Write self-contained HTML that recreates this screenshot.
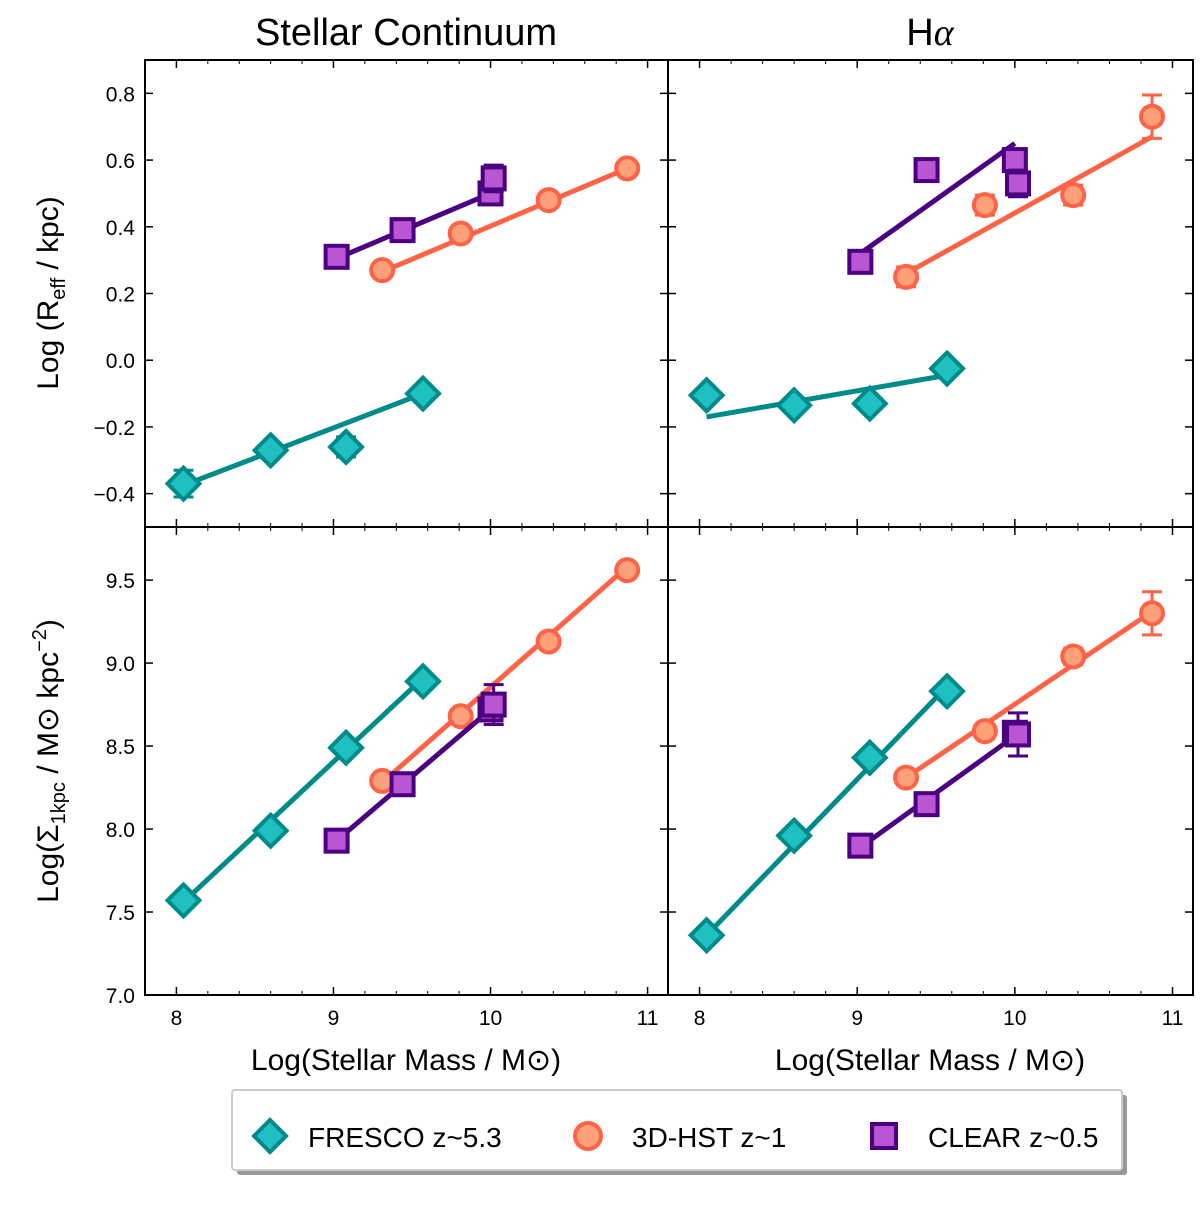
<!DOCTYPE html>
<html><head><meta charset="utf-8"><style>
body{margin:0;background:#fff;}
svg text{font-family:"Liberation Sans","DejaVu Sans",sans-serif;fill:#000;}
</style></head><body>
<svg id="chart" width="1200" height="1200" xmlns="http://www.w3.org/2000/svg">
<text x="406" y="45" font-size="38" text-anchor="middle">Stellar Continuum</text>
<text x="930" y="45" font-size="38" text-anchor="middle">H<tspan font-style="italic" font-family="Liberation Serif">α</tspan></text>
<text transform="translate(58,293) rotate(-90)" font-size="30" text-anchor="middle">Log (R<tspan font-size="20" dy="7">eff</tspan><tspan dy="-7"> / kpc)</tspan></text>
<text transform="translate(58,761) rotate(-90)" font-size="30" text-anchor="middle">Log(Σ<tspan font-size="20" dy="7">1kpc</tspan><tspan dy="-7"> / M</tspan><tspan>⊙</tspan><tspan> kpc</tspan><tspan font-size="20" dy="-12">−2</tspan><tspan dy="12">)</tspan></text>
<text x="406" y="1070" font-size="30" text-anchor="middle">Log(Stellar Mass / M⊙)</text>
<text x="930" y="1070" font-size="30" text-anchor="middle">Log(Stellar Mass / M⊙)</text>
<g id="panels"></g>
<g>
<rect x="237" y="1095" width="890" height="80" fill="#999" rx="3"/>
<rect x="232" y="1090" width="890" height="80" fill="#fff" stroke="#ccc" stroke-width="2" rx="3"/>
<polygon points="270,1120 286,1136 270,1152 254,1136" fill="#20c0c0" stroke="#008b8b" stroke-width="4"/>
<text x="308" y="1147" font-size="28">FRESCO z~5.3</text>
<circle cx="588" cy="1136" r="13" fill="#ffa07a" stroke="#ff6347" stroke-width="4"/>
<text x="632" y="1147" font-size="28">3D-HST z~1</text>
<rect x="872" y="1124" width="24" height="24" fill="#ba55d3" stroke="#4b0082" stroke-width="4"/>
<text x="928" y="1147" font-size="28">CLEAR z~0.5</text>
</g>
</svg>
<script>
const massF=[8.045,8.60,9.08,9.57];
const massH=[9.31,9.81,10.37,10.87];
const massC=[9.02,9.44,10.00,10.02];
const reffContF=[-0.37,-0.27,-0.26,-0.10];
const reffContH=[0.27,0.38,0.48,0.575];
const reffContC=[0.31,0.39,0.50,0.545];
const reffHaF=[-0.105,-0.135,-0.13,-0.025];
const reffHaH=[0.25,0.465,0.495,0.73];
const reffHaC=[0.295,0.57,0.60,0.53];
const sigContF=[7.57,7.99,8.49,8.89];
const sigContH=[8.29,8.68,9.13,9.56];
const sigContC=[7.93,8.27,8.72,8.75];
const sigHaF=[7.36,7.96,8.43,8.83];
const sigHaH=[8.31,8.59,9.04,9.30];
const sigHaC=[7.90,8.15,8.58,8.57];
const errReffContF=[0.04,0.02,0.03,0.02];
const errReffContH=[0.01,0.02,0.02,0.015];
const errReffContC=[0.015,0.02,0.02,0.04];
const errReffHaF=[0.02,0.02,0.02,0.02];
const errReffHaH=[0.03,0.03,0.03,0.065];
const errReffHaC=[0.03,0.02,0.03,0.04];
const errSigContF=[0.02,0.02,0.02,0.02];
const errSigContH=[0.02,0.02,0.03,0.03];
const errSigContC=[0.03,0.03,0.06,0.12];
const errSigHaF=[0.02,0.02,0.02,0.02];
const errSigHaH=[0.03,0.04,0.05,0.13];
const errSigHaC=[0.03,0.03,0.06,0.13];
// fit line endpoints [x0,x1,y0,y1]
const fitReffContF=[8.045,9.57,-0.375,-0.10];
const fitReffContH=[9.31,10.87,0.265,0.575];
const fitReffContC=[9.02,10.00,0.305,0.50];
const fitReffHaF=[8.045,9.57,-0.17,-0.045];
const fitReffHaH=[9.31,10.87,0.26,0.67];
const fitReffHaC=[9.02,10.00,0.32,0.65];
const fitSigContF=[8.045,9.57,7.56,8.91];
const fitSigContH=[9.31,10.87,8.28,9.58];
const fitSigContC=[9.02,10.00,7.93,8.72];
const fitSigHaF=[8.045,9.57,7.36,8.86];
const fitSigHaH=[9.31,10.87,8.31,9.31];
const fitSigHaC=[9.02,10.00,7.89,8.56];
const xTicks=[8,9,10,11];
const yTicksTop=[-0.4,-0.2,0.0,0.2,0.4,0.6,0.8];
const yTicksBot=[7.0,7.5,8.0,8.5,9.0,9.5];
const NS="http://www.w3.org/2000/svg";
const g=document.getElementById('panels');
function mk(t,a,parent){const e=document.createElementNS(NS,t);for(const k in a)e.setAttribute(k,a[k]);(parent||g).appendChild(e);return e;}
const sty={F:{line:'#008b8b',fill:'#20c0c0',edge:'#008b8b'},H:{line:'#ff6347',fill:'#ffa07a',edge:'#ff6347'},C:{line:'#4b0082',fill:'#ba55d3',edge:'#4b0082'}};
function panel(px,py,w,h,ymin,ymax,yticks,showY,showX,series,name){
  const X=v=>px+(v-7.8)/(11.13-7.8)*w;
  const Y=v=>py+h-(v-ymin)/(ymax-ymin)*h;
  const pg=mk('g',{});
  
  
  xTicks.forEach(t=>{
    mk('line',{x1:X(t),x2:X(t),y1:py+h,y2:py+h-8,stroke:'#000','stroke-width':1.5},pg);
    mk('line',{x1:X(t),x2:X(t),y1:py,y2:py+8,stroke:'#000','stroke-width':1.5},pg);
    for(let m=1;m<5;m++){const v=t+m*0.2;if(v<11.13){mk('line',{x1:X(v),x2:X(v),y1:py+h,y2:py+h-4,stroke:'#000'},pg);mk('line',{x1:X(v),x2:X(v),y1:py,y2:py+4,stroke:'#000'},pg);}}
    if(showX){const tx=mk('text',{x:X(t),y:py+h+30,'font-size':21,'text-anchor':'middle'},pg);tx.textContent=t;
      
      }
  });
  yticks.forEach(t=>{
    mk('line',{x1:px,x2:px+8,y1:Y(t),y2:Y(t),stroke:'#000','stroke-width':1.5},pg);
    mk('line',{x1:px+w,x2:px+w-8,y1:Y(t),y2:Y(t),stroke:'#000','stroke-width':1.5},pg);
    if(showY){const tx=mk('text',{x:px-10,y:Y(t)+8,'font-size':21,'text-anchor':'end'},pg);
      tx.textContent=(t<0?'−':'')+Math.abs(t).toFixed(1);
      
      }
  });
  series.forEach(s=>{
    const c=sty[s.k];
    const ln=mk('line',{x1:X(s.fit[0]),x2:X(s.fit[1]),y1:Y(s.fit[2]),y2:Y(s.fit[3]),stroke:c.line,'stroke-width':5},pg);
    
    
    s.x.forEach((xv,i)=>{
      const cx=X(xv),cy=Y(s.y[i]),e=s.e[i];
      mk('line',{x1:cx,x2:cx,y1:Y(s.y[i]-e),y2:Y(s.y[i]+e),stroke:c.edge,'stroke-width':3},pg);
      mk('line',{x1:cx-10,x2:cx+10,y1:Y(s.y[i]-e),y2:Y(s.y[i]-e),stroke:c.edge,'stroke-width':3},pg);
      mk('line',{x1:cx-10,x2:cx+10,y1:Y(s.y[i]+e),y2:Y(s.y[i]+e),stroke:c.edge,'stroke-width':3},pg);
      let m;
      if(s.k==='F')m=mk('polygon',{points:`${cx},${cy-16} ${cx+16},${cy} ${cx},${cy+16} ${cx-16},${cy}`,fill:c.fill,stroke:c.edge,'stroke-width':4},pg);
      else if(s.k==='H')m=mk('circle',{cx:cx,cy:cy,r:11,fill:c.fill,stroke:c.edge,'stroke-width':4},pg);
      else m=mk('rect',{x:cx-11,y:cy-11,width:22,height:22,fill:c.fill,stroke:c.edge,'stroke-width':4},pg);
      
      
    });
  });
  const fr=mk('rect',{x:px,y:py,width:w,height:h,fill:'none',stroke:'#000','stroke-width':2},pg);
  
  
}
panel(145,60,523,467,-0.5,0.9,yTicksTop,true,false,[
 {k:'F',x:massF,y:reffContF,e:errReffContF,fit:fitReffContF},
 {k:'H',x:massH,y:reffContH,e:errReffContH,fit:fitReffContH},
 {k:'C',x:massC,y:reffContC,e:errReffContC,fit:fitReffContC}],'panel-reff-continuum');
panel(668,60,525,467,-0.5,0.9,yTicksTop,false,false,[
 {k:'F',x:massF,y:reffHaF,e:errReffHaF,fit:fitReffHaF},
 {k:'H',x:massH,y:reffHaH,e:errReffHaH,fit:fitReffHaH},
 {k:'C',x:massC,y:reffHaC,e:errReffHaC,fit:fitReffHaC}],'panel-reff-halpha');
panel(145,527,523,468,7.0,9.82,yTicksBot,true,true,[
 {k:'F',x:massF,y:sigContF,e:errSigContF,fit:fitSigContF},
 {k:'H',x:massH,y:sigContH,e:errSigContH,fit:fitSigContH},
 {k:'C',x:massC,y:sigContC,e:errSigContC,fit:fitSigContC}],'panel-sigma-continuum');
panel(668,527,525,468,7.0,9.82,yTicksBot,false,true,[
 {k:'F',x:massF,y:sigHaF,e:errSigHaF,fit:fitSigHaF},
 {k:'H',x:massH,y:sigHaH,e:errSigHaH,fit:fitSigHaH},
 {k:'C',x:massC,y:sigHaC,e:errSigHaC,fit:fitSigHaC}],'panel-sigma-halpha');
</script>
</body></html>
